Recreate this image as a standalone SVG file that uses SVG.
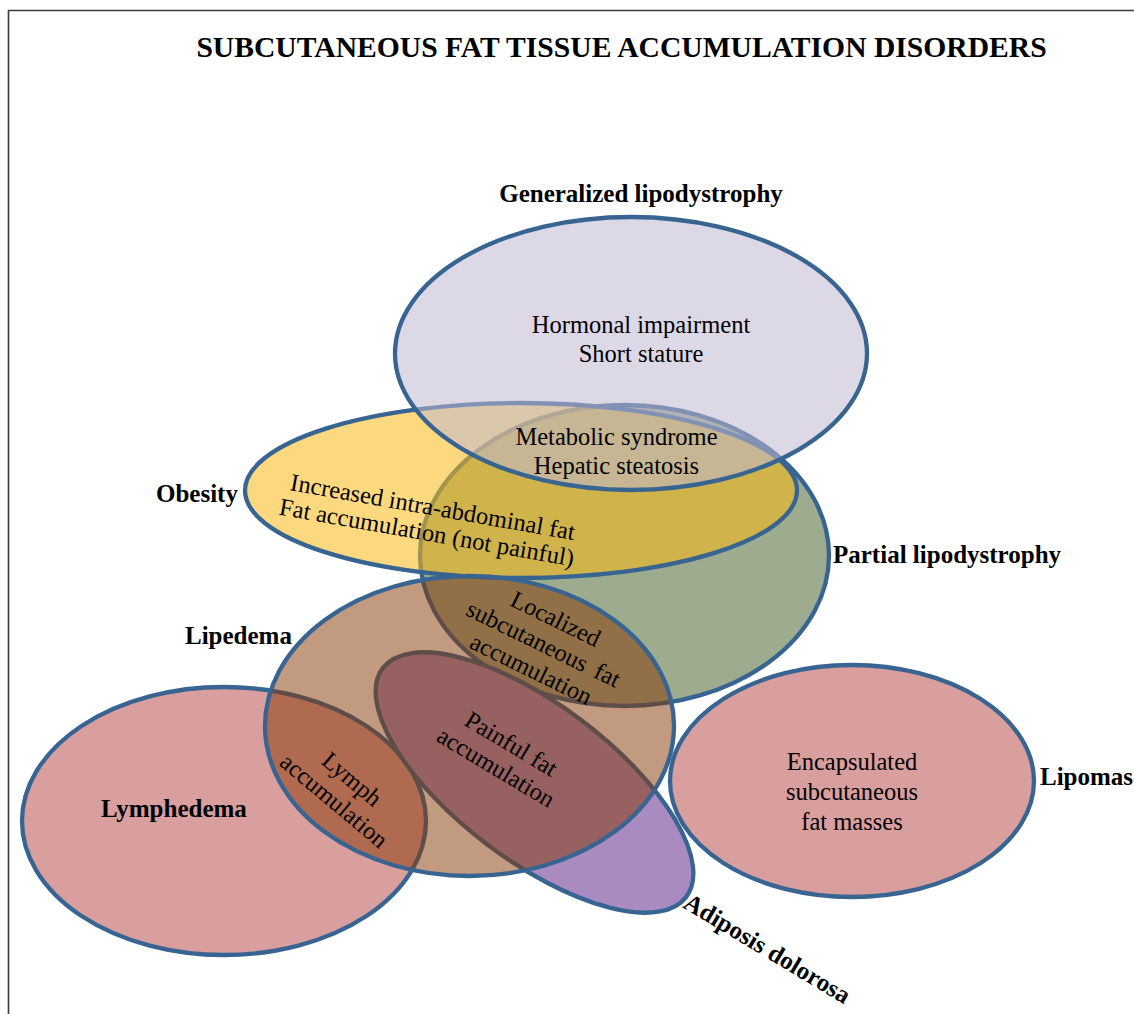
<svg xmlns="http://www.w3.org/2000/svg" width="1134" height="1014" viewBox="0 0 1134 1014">
<style>
.sh{stroke:#386492;stroke-width:4.3}
.lbl{font-family:"Liberation Serif","Times New Roman",serif;font-weight:bold;font-size:25px;fill:#000}
.txt{font-family:"Liberation Serif","Times New Roman",serif;font-size:24.5px;fill:#000;text-anchor:middle}
.title{font-family:"Liberation Serif","Times New Roman",serif;font-weight:bold;font-size:29.6px;fill:#000;text-anchor:middle}
</style>
<rect width="1134" height="1014" fill="#fff"/>
<path d="M8.5 1014 V10.5 H1134" fill="none" stroke="#3a3a3a" stroke-width="1.6"/>
<text class="title" x="621.5" y="57">SUBCUTANEOUS FAT TISSUE ACCUMULATION DISORDERS</text>

<g id="partial-lipodystrophy">
<ellipse class="sh" cx="624.5" cy="555.5" rx="204.5" ry="150.5" fill="#9dab8f"/>
<text class="lbl" x="833" y="563">Partial lipodystrophy</text>
</g>
<g id="obesity">
<ellipse class="sh" cx="521" cy="490.5" rx="276" ry="87.5" fill="#faba14" fill-opacity="0.55"/>
<text class="lbl" x="156" y="502">Obesity</text>
</g>
<g id="generalized-lipodystrophy">
<ellipse class="sh" cx="631" cy="353.5" rx="236" ry="136.5" fill="#bfb8d2" fill-opacity="0.55"/>
<text class="lbl" x="641" y="202" text-anchor="middle">Generalized lipodystrophy</text>
<text class="txt" x="641" y="333">Hormonal impairment</text>
<text class="txt" x="641" y="362">Short stature</text>
</g>
<g id="lymphedema">
<ellipse class="sh" cx="224" cy="821" rx="202" ry="134" fill="#d99e9e"/>
<text class="lbl" x="101" y="817">Lymphedema</text>
</g>
<g id="adiposis-dolorosa">
<ellipse class="sh" cx="534.5" cy="782.5" rx="190" ry="78" transform="rotate(37 534.5 782.5)" fill="#a98bc2"/>
<text class="lbl" x="682" y="907" transform="rotate(31 682 907)">Adiposis dolorosa</text>
</g>
<g id="lipomas">
<ellipse class="sh" cx="852" cy="781" rx="182" ry="116" fill="#d99e9e"/>
<text class="lbl" x="1040" y="785">Lipomas</text>
<text class="txt" x="852" y="770">Encapsulated</text>
<text class="txt" x="852" y="800">subcutaneous</text>
<text class="txt" x="852" y="830">fat masses</text>
</g>
<g id="lipedema">
<ellipse class="sh" cx="469.5" cy="726" rx="204.5" ry="150" fill="#853500" fill-opacity="0.5"/>
<text class="lbl" x="185" y="644">Lipedema</text>
</g>

<g id="overlap-labels">
<text class="txt" x="616.5" y="445">Metabolic syndrome</text>
<text class="txt" x="616.5" y="474">Hepatic steatosis</text>
<g transform="translate(430.5 520) rotate(10)">
<text class="txt" x="0" y="-5">Increased intra-abdominal fat</text>
<text class="txt" x="-1.5" y="21">Fat accumulation (not painful)</text>
</g>
<g transform="translate(543 645) rotate(26)">
<text class="txt" x="0" y="-21">Localized</text>
<text class="txt" x="0" y="7" word-spacing="4">subcutaneous fat</text>
<text class="txt" x="0" y="35">accumulation</text>
</g>
<g transform="translate(504 756) rotate(31)">
<text class="txt" x="0" y="-6">Painful fat</text>
<text class="txt" x="-1" y="22">accumulation</text>
</g>
<g transform="translate(343 790) rotate(40)">
<text class="txt" x="0" y="-6">Lymph</text>
<text class="txt" x="0" y="22">accumulation</text>
</g>
</g>
</svg>
